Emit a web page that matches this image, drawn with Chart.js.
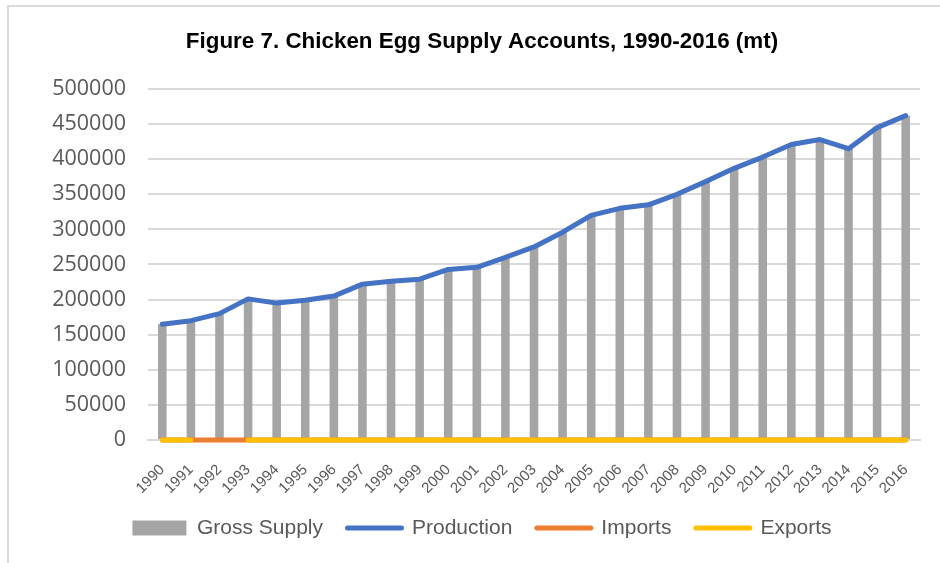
<!DOCTYPE html>
<html>
<head>
<meta charset="utf-8">
<title>Chicken Egg Supply Accounts</title>
<script src="https://cdn.jsdelivr.net/npm/chart.js@4.4.0/dist/chart.umd.min.js"></script>
<style>
  body { margin: 0; background: #fff; }
  #wrap { position: relative; width: 940px; height: 563px; overflow: hidden; }
  #frame { position: absolute; left: 7px; top: 5px; width: 1000px; height: 700px; border: 2px solid #d9d9d9; }
  canvas { position: absolute; left: 0; top: 0; }
</style>
</head>
<body>
<div id="wrap">
  <div id="frame"></div>
  <canvas id="chart" width="940" height="563"></canvas>
</div>
<script>
// data (metric tonnes)
const years = ['1990', '1991', '1992', '1993', '1994', '1995', '1996', '1997', '1998', '1999',
  '2000', '2001', '2002', '2003', '2004', '2005', '2006', '2007', '2008', '2009',
  '2010', '2011', '2012', '2013', '2014', '2015', '2016'];
const grossSupply = [165000, 170000, 180000, 201000, 195000, 199000, 205000, 222000, 226000, 229000,
  243000, 246000, 260000, 275000, 296000, 320000, 330000, 335000, 350000, 368000,
  387000, 403000, 421000, 428000, 415000, 445000, 462000];
const production = [165000, 170000, 180000, 201000, 195000, 199000, 205000, 222000, 226000, 229000,
  243000, 246000, 260000, 275000, 296000, 320000, 330000, 335000, 350000, 368000,
  387000, 403000, 421000, 428000, 415000, 445000, 462000];
const imports = [0, 0, 0, 0, 0, 0, 0, 0, 0, 0, 0, 0, 0, 0, 0, 0, 0, 0, 0, 0, 0, 0, 0, 0, 0, 0, 0];
// no export figure for 1992, so the line has a gap there
const exportsData = [0, 0, null, 0, 0, 0, 0, 0, 0, 0, 0, 0, 0, 0, 0, 0, 0, 0, 0, 0, 0, 0, 0, 0, 0, 0, 0];
const yTicks = [0, 50000, 100000, 150000, 200000, 250000, 300000, 350000, 400000, 450000, 500000];

const textGray = '#595959';
const gridGray = '#d9d9d9';

new Chart('chart', {
  data: {
    labels: years,
    datasets: [
      {
        type: 'bar',
        label: 'Gross Supply',
        data: grossSupply,
        backgroundColor: '#a5a5a5',
        barPercentage: 0.3,
        categoryPercentage: 1,
        order: 4
      },
      {
        type: 'line',
        label: 'Production',
        data: production,
        borderColor: '#4472c4',
        backgroundColor: '#4472c4',
        borderWidth: 5,
        borderCapStyle: 'round',
        borderJoinStyle: 'round',
        pointRadius: 0,
        clip: false,
        order: 3
      },
      {
        type: 'line',
        label: 'Imports',
        data: imports,
        borderColor: '#ed7d31',
        backgroundColor: '#ed7d31',
        borderWidth: 5,
        borderCapStyle: 'round',
        pointRadius: 0,
        clip: false,
        order: 2
      },
      {
        type: 'line',
        label: 'Exports',
        data: exportsData,
        borderColor: '#ffc000',
        backgroundColor: '#ffc000',
        borderWidth: 5,
        borderCapStyle: 'round',
        pointRadius: 0,
        spanGaps: false,
        clip: false,
        order: 1
      }
    ]
  },
  options: {
    responsive: false,
    animation: false,
    layout: { padding: { left: 44, right: 20, top: 10, bottom: 14.5 } },
    plugins: {
      tooltip: { enabled: false },
      title: {
        display: true,
        text: 'Figure 7. Chicken Egg Supply Accounts, 1990-2016 (mt)',
        color: '#000',
        font: { family: '"Liberation Sans", Arial, sans-serif', size: 22.4, weight: 'bold' },
        padding: { top: 18.6, bottom: 33.5 }
      },
      legend: {
        position: 'bottom',
        labels: {
          color: textGray,
          font: { family: '"Liberation Sans", Arial, sans-serif', size: 21 },
          usePointStyle: true,
          pointStyleWidth: 54,
          boxHeight: 15,
          padding: 24.5,
          generateLabels(chart) {
            const items = Chart.defaults.plugins.legend.labels.generateLabels(chart);
            return items.map(it => {
              const ds = chart.data.datasets[it.datasetIndex];
              if (ds.type === 'bar') {
                it.pointStyle = 'rect';
                it.lineWidth = 0;
                it.strokeStyle = ds.backgroundColor;
              } else {
                it.pointStyle = 'line';
                it.lineWidth = 5;
                it.lineCap = 'round';
                it.strokeStyle = ds.borderColor;
              }
              return it;
            });
          },
          sort: (a, b) => a.datasetIndex - b.datasetIndex
        }
      }
    },
    scales: {
      x: {
        grid: { display: false },
        border: { color: gridGray, width: 2 },
        ticks: {
          color: textGray,
          font: { family: '"Liberation Sans", Arial, sans-serif', size: 15 },
          minRotation: 45,
          maxRotation: 45,
          autoSkip: false,
          padding: 13
        },
        afterFit(scale) { scale.height = 53; }
      },
      y: {
        min: 0,
        max: 500000,
        afterBuildTicks(scale) { scale.ticks = yTicks.map(v => ({ value: v })); },
        grid: { color: gridGray, lineWidth: 2, drawTicks: false },
        border: { display: false },
        ticks: {
          color: textGray,
          font: { family: '"Open Sans", sans-serif', size: 21.5 },
          padding: 22,
          callback: v => String(v)
        },
        afterFit(scale) { scale.width = 104; }
      }
    }
  }
});
</script>
</body>
</html>
